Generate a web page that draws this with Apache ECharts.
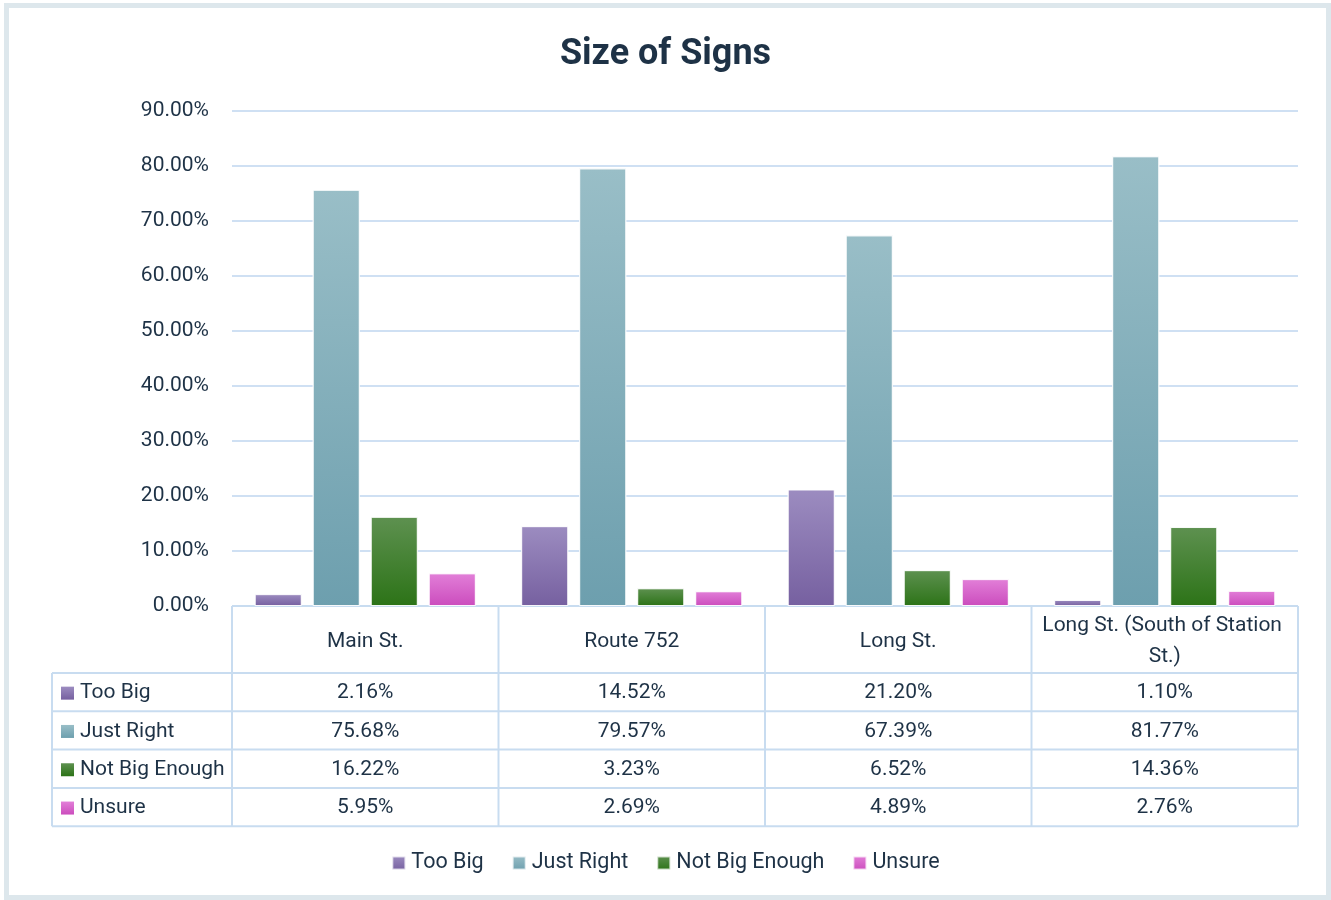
<!DOCTYPE html>
<html>
<head>
<meta charset="utf-8">
<title>Size of Signs</title>
<script src="https://cdn.jsdelivr.net/npm/echarts@6/dist/echarts.min.js"></script>
<style>
  html, body { margin: 0; padding: 0; background: #ffffff; }
  #chart { width: 1331px; height: 900px; }
</style>
</head>
<body>
<div id="chart"></div>
<script>
// Survey results: perceived size of signs, by street (percent of responses)
const categories = ['Main St.', 'Route 752', 'Long St.', 'Long St. (South of Station St.)'];
const seriesNames = ['Too Big', 'Just Right', 'Not Big Enough', 'Unsure'];
const tooBig       = [2.16, 14.52, 21.20, 1.10];
const justRight    = [75.68, 79.57, 67.39, 81.77];
const notBigEnough = [16.22, 3.23, 6.52, 14.36];
const unsure       = [5.95, 2.69, 4.89, 2.76];
const yMin = 0, yMax = 90, yStep = 10;

const seriesValues = [tooBig, justRight, notBigEnough, unsure];
// top / bottom colours of each series' vertical gradient
const gradientStops = [
  ['#9c8cc0', '#7660a0'],
  ['#99bec7', '#6d9fae'],
  ['#5e9150', '#2c7317'],
  ['#e27fd8', '#cb4cbd']
];

const FONT = 'Roboto, "Noto Sans", sans-serif';
const TEXT = '#1e3246';
const LINE = '#c8dcf0';
const fmt = v => v.toFixed(2) + '%';

function grad(i) {
  return new echarts.graphic.LinearGradient(0, 0, 0, 1, [
    { offset: 0, color: gradientStops[i][0] },
    { offset: 1, color: gradientStops[i][1] }
  ]);
}

const chart = echarts.init(document.getElementById('chart'), null, { renderer: 'canvas' });

chart.setOption({
  backgroundColor: '#ffffff',
  animation: false,
  textStyle: { fontFamily: FONT, color: TEXT },
  title: {
    text: 'Size of Signs',
    left: 'center',
    top: 32,
    textStyle: { fontFamily: FONT, fontSize: 36, fontWeight: 'bold', color: TEXT }
  },
  legend: {
    bottom: 21,
    left: 'center',
    itemWidth: 13,
    itemHeight: 13,
    itemGap: 28,
    icon: 'rect',
    textStyle: { fontFamily: FONT, fontSize: 21.5, color: TEXT, padding: [0, 0, 0, 1] },
    data: seriesNames
  },
  grid: { left: 232, right: 33, top: 111, bottom: 294, containLabel: false },
  xAxis: {
    type: 'category',
    data: categories,
    axisLine: { show: false },
    axisTick: { show: false },
    axisLabel: { show: false }
  },
  yAxis: {
    type: 'value',
    min: yMin, max: yMax, interval: yStep,
    axisLine: { show: false },
    axisTick: { show: false },
    axisLabel: { formatter: v => fmt(v), fontSize: 21, color: TEXT, margin: 23, fontFamily: FONT },
    splitLine: { lineStyle: { color: '#cfe0f3', width: 2 } }
  },
  series: seriesNames.map((name, i) => ({
    name,
    type: 'bar',
    data: seriesValues[i],
    barGap: '23%',
    barCategoryGap: '17%',
    itemStyle: { color: grad(i), borderColor: 'rgba(255,255,255,0.7)', borderWidth: 1 }
  }))
});

// Data table under the plot: header row of streets, one row per series
function drawTable() {
  const tableLeft = 52;
  const headerH = 67;
  const rowH = 38.3;
  const top = chart.convertToPixel({ yAxisIndex: 0 }, yMin);
  const centers = categories.map(c => chart.convertToPixel({ xAxisIndex: 0 }, c));
  const band = centers.length > 1 ? centers[1] - centers[0] : 266;
  const colLeft = centers[0] - band / 2;
  const colRight = centers[centers.length - 1] + band / 2;
  const rowTop = top + headerH;
  const bottom = rowTop + rowH * seriesNames.length;
  const els = [];
  const line = (x1, y1, x2, y2) => els.push({
    type: 'line', silent: true,
    shape: { x1, y1, x2, y2 },
    style: { stroke: LINE, lineWidth: 2 }
  });

  // horizontal rules
  line(colLeft, top, colRight, top);
  for (let r = 0; r <= seriesNames.length; r++) {
    const y = rowTop + r * rowH;
    line(tableLeft, y, colRight, y);
  }
  // vertical rules
  line(tableLeft, rowTop, tableLeft, bottom);
  for (let c = 0; c <= categories.length; c++) {
    const x = colLeft + c * band;
    line(x, top, x, bottom);
  }
  // header cells
  categories.forEach((name, c) => {
    els.push({
      type: 'text', silent: true,
      x: centers[c], y: top + headerH / 2 + 2,
      style: {
        text: name, width: band - 16, overflow: 'break',
        align: 'center', verticalAlign: 'middle', lineHeight: 31,
        fontFamily: FONT, fontSize: 21, fill: TEXT
      }
    });
  });
  // series rows
  seriesNames.forEach((name, r) => {
    const cy = rowTop + r * rowH + rowH / 2 + 1;
    els.push({
      type: 'rect', silent: true,
      shape: { x: tableLeft + 9, y: cy - 6.5, width: 13, height: 13 },
      style: { fill: grad(r) }
    });
    els.push({
      type: 'text', silent: true,
      x: tableLeft + 28, y: cy,
      style: { text: name, align: 'left', verticalAlign: 'middle', fontFamily: FONT, fontSize: 21, fill: TEXT }
    });
    seriesValues[r].forEach((v, c) => {
      els.push({
        type: 'text', silent: true,
        x: centers[c], y: cy,
        style: { text: fmt(v), align: 'center', verticalAlign: 'middle', fontFamily: FONT, fontSize: 21, fill: TEXT }
      });
    });
  });
  // outer frame of the chart area
  els.push({
    type: 'rect', silent: true, z: 100,
    shape: { x: 6.5, y: 5.5, width: 1322, height: 892 },
    style: { fill: 'none', stroke: '#dde7ec', lineWidth: 5 }
  });
  chart.setOption({ graphic: { elements: els } }, { replaceMerge: ['graphic'] });
}
drawTable();
</script>
</body>
</html>
